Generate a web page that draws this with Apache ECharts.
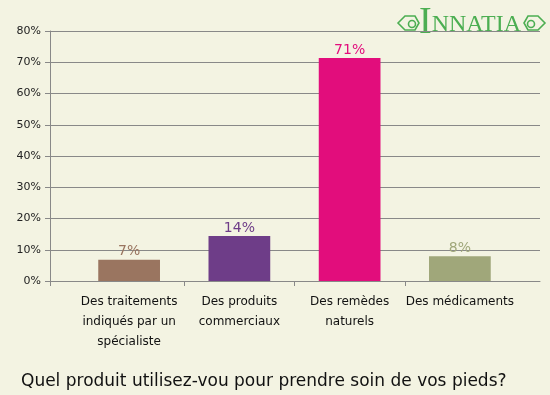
<!DOCTYPE html>
<html>
<head>
<meta charset="utf-8">
<script src="https://cdn.jsdelivr.net/npm/echarts@6/dist/echarts.min.js"></script>
<style>
html,body{margin:0;padding:0;background:#f3f3e2;}
#c{width:550px;height:395px;}
</style>
</head>
<body>
<div id="c"></div>
<script>
const categories = ["Des traitements\nindiqués par un\nspécialiste", "Des produits\ncommerciaux", "Des remèdes\nnaturels", "Des médicaments"];
const values = [6.8, 14.4, 71.4, 7.9];
const barColors = ["#9a7560", "#6e3d88", "#e20d7c", "#a0a77a"];
const yTicks = [0, 10, 20, 30, 40, 50, 60, 70, 80];
const titleText = "Quel produit utilisez-vou pour prendre soin de vos pieds?";

const chart = echarts.init(document.getElementById('c'), null, {renderer: 'canvas'});
const green = '#4cae52';
const font = 'DejaVu Sans';
const option = {
  backgroundColor: '#f3f3e2',
  animation: false,
  title: {
    text: titleText,
    left: 16,
    top: 368,
    textStyle: {fontFamily: font, fontSize: 17, fontWeight: 'normal', color: '#111'}
  },
  grid: [
    {left: 74, right: 35, top: 31, bottom: 114},
    {left: 50, right: 10, top: 31, bottom: 114}
  ],
  xAxis: [
    {
      type: 'category', gridIndex: 0, data: categories,
      axisLine: {show: false}, axisTick: {show: false},
      axisLabel: {fontFamily: font, fontSize: 12, lineHeight: 20, color: '#111', margin: 11, interval: 0}
    },
    {
      type: 'value', gridIndex: 1, min: 0, max: 1,
      axisLine: {show: true, lineStyle: {color: '#888', width: 1}},
      axisTick: {show: true, customValues: [0], length: 5, lineStyle: {color: '#888'}},
      axisLabel: {show: false}, splitLine: {show: false}
    },
    {
      type: 'value', gridIndex: 0, min: 0, max: categories.length, position: 'bottom',
      axisLine: {show: false},
      axisTick: {show: true, customValues: categories.slice(1).map((c, i) => i + 1), length: 5, lineStyle: {color: '#888'}},
      axisLabel: {show: false}, splitLine: {show: false}
    }
  ],
  yAxis: [
    {type: 'value', gridIndex: 0, min: yTicks[0], max: yTicks[yTicks.length - 1], show: false},
    {
      type: 'value', gridIndex: 1, min: yTicks[0], max: yTicks[yTicks.length - 1], interval: yTicks[1] - yTicks[0],
      axisLine: {show: true, lineStyle: {color: '#888'}},
      axisTick: {show: true, length: 5, lineStyle: {color: '#888'}},
      axisLabel: {formatter: '{value}%', fontFamily: font, fontSize: 11, color: '#222', margin: 9},
      splitLine: {show: true, lineStyle: {color: '#888', width: 1}}
    }
  ],
  series: [{
    type: 'bar', xAxisIndex: 0, yAxisIndex: 0,
    data: values.map((v, i) => ({value: v, itemStyle: {color: barColors[i]}, label: {color: barColors[i]}})),
    barWidth: '56%',
    label: {
      show: true, position: 'top', distance: 1,
      fontFamily: font, fontSize: 14,
      formatter: p => Math.round(p.value) + '%'
    }
  }],
  graphic: [
    {type: 'polygon', shape: {points: [[398,23],[405,16],[415,16],[419,23],[415,30],[405,30]]}, style: {fill: 'none', stroke: green, lineWidth: 1.6}},
    {type: 'circle', shape: {cx: 412, cy: 24, r: 3.5}, style: {fill: 'none', stroke: green, lineWidth: 1.6}},
    {type: 'polygon', shape: {points: [[545,23],[538,16],[528,16],[524,23],[528,30],[538,30]]}, style: {fill: 'none', stroke: green, lineWidth: 1.6}},
    {type: 'circle', shape: {cx: 531, cy: 24, r: 3.5}, style: {fill: 'none', stroke: green, lineWidth: 1.6}},
    {
      type: 'text', left: 419, top: 4,
      style: {
        text: '{a|I}{b|NNATIA}',
        rich: {
          a: {fontFamily: 'Liberation Serif', fontSize: 38, fill: green, verticalAlign: 'bottom'},
          b: {fontFamily: 'Liberation Serif', fontSize: 24, fill: green, verticalAlign: 'bottom', padding: [0, 0, 5, 0]}
        }
      }
    }
  ]
};
chart.setOption(option);
</script>
</body>
</html>
